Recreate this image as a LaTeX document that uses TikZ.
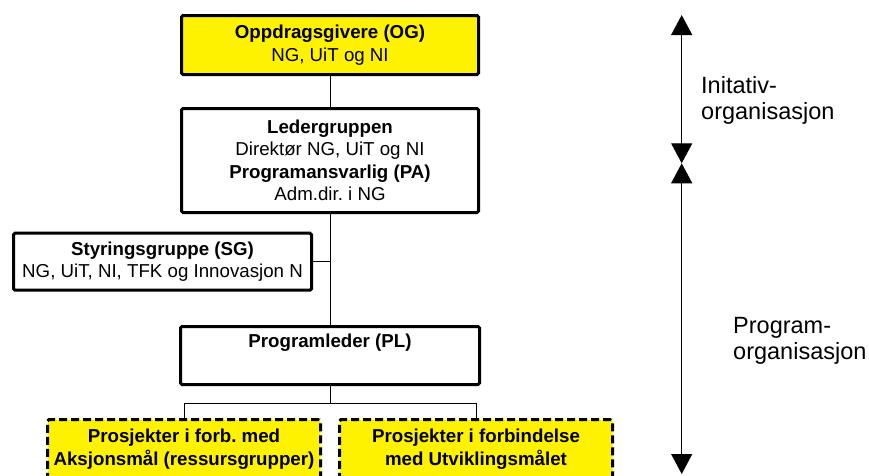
\documentclass[tikz,border=0pt]{standalone}
\usepackage{fontspec}
\setmainfont{Liberation Sans}
\frenchspacing
\usepackage{xcolor}
\usepackage{tikz}
\usetikzlibrary{arrows.meta}
\usetikzlibrary{shapes,positioning}
\tikzset{org-line/.style={line width=1pt}}
\tikzset{span-arrow/.style={line width=1.3pt, {Triangle[width=21pt,length=20pt]}-{Triangle[width=21pt,length=20pt]}}}
\tikzset{org-box/.style={draw, line width=3pt, rounded corners=1.5pt, inner sep=0, align=center, minimum width=297pt, font=\fontsize{18.7pt}{22.4pt}\selectfont}}
\tikzset{org-project/.style={org-box, fill=yellow, dash pattern=on 8pt off 4pt, minimum width=273pt, minimum height=59pt, font=\fontsize{18.7pt}{22.4pt}\selectfont\bfseries}}
\tikzset{side-label/.style={anchor=west, align=left, inner sep=0, font=\fontsize{23.5pt}{26pt}\selectfont}}

\begin{document}
\begin{tikzpicture}[x=1pt, y=-1pt]
            \clip (0,0) rectangle (869,475);

            \node[org-box, fill=yellow, minimum height=59pt] (og) at (330,45) {\textbf{Oppdragsgivere (OG)}\\NG, UiT og NI};
            \node[org-box, minimum height=104pt, below=31pt of og] (leder) {\textbf{Ledergruppen}\\Direktør NG, UiT og NI\\\textbf{Programansvarlig (PA)}\\Adm.dir. i NG};
            \node[org-box, minimum width=298pt, minimum height=57pt] (sg) at (162.5,261.7) {\textbf{Styringsgruppe (SG)}\\NG, UiT, NI, TFK og Innovasjon N};
            \node[org-box, minimum width=299pt, minimum height=58pt] (pl) at (330,355.5) {\textbf{Programleder (PL)}\\\strut};

            \node[org-project, below=32pt of pl.south, xshift=-146pt] (proj1) {Prosjekter i forb. med\\Aksjonsmål (ressursgrupper)};
            \node[org-project, below=32pt of pl.south, xshift=146pt] (proj2) {Prosjekter i forbindelse\\med Utviklingsmålet};

            \draw[org-line] (og) -- (leder);
            \draw[org-line] (leder) -- (pl);
            \draw[org-line] (sg.east) -- (sg.east -| leder.south);

            \coordinate (fork) at ([yshift=-17pt]pl.south);
            \draw[org-line] (pl.south) -- (fork) -| (proj1.north);
            \draw[org-line] (fork) -| (proj2.north);

            % organisation spans on the right
            \coordinate (span-top) at (681.7,15);
            \coordinate (span-mid) at (681.7,163.3);
            \coordinate (span-bot) at (681.7,474);
            \draw[span-arrow] (span-top) -- (span-mid);
            \draw[span-arrow] (span-mid) -- (span-bot);

            \node[side-label] (init-label) at (701,100) {Initativ-\\organisasjon};
            \node[side-label] (prog-label) at (733,341) {Program-\\organisasjon};

        \end{tikzpicture}
\end{document}
